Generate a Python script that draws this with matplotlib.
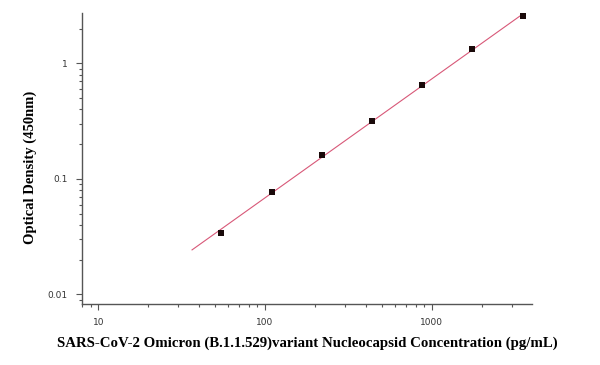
import numpy as np
import matplotlib
matplotlib.use("Agg")
import matplotlib.pyplot as plt
from matplotlib.ticker import LogLocator, FixedLocator, NullFormatter

# standard curve
conc = [54.7, 109.4, 218.75, 437.5, 875, 1750, 3500]
od = [0.0343, 0.0776, 0.162, 0.319, 0.644, 1.32, 2.56]

x_ticks = [10, 100, 1000]
x_tick_labels = ["10", "100", "1000"]
y_ticks = [0.01, 0.1, 1]
y_tick_labels = ["0.01", "0.1", "1"]

fig = plt.figure(figsize=(6, 3.65), dpi=100)
ax = fig.add_axes([0.136, 0.166, 0.751, 0.798])

# log-log linear fit
slope, icept = np.polyfit(np.log10(conc), np.log10(od), 1)
xf = np.logspace(np.log10(36.5), np.log10(3700), 50)
ax.plot(xf, 10 ** (icept + slope * np.log10(xf)), color="#d85878", lw=0.8, zorder=2)
ax.scatter(conc, od, marker="s", s=18, color="#1a0a0a", linewidths=0, zorder=3)

ax.set_xscale("log")
ax.set_yscale("log")
ax.set_xlim(7.95, 3990)
ax.set_ylim(0.0082, 2.72)

ax.xaxis.set_major_locator(FixedLocator(x_ticks))
ax.set_xticklabels(x_tick_labels)
ax.yaxis.set_major_locator(FixedLocator(y_ticks))
ax.set_yticklabels(y_tick_labels)
for a in (ax.xaxis, ax.yaxis):
    a.set_minor_locator(LogLocator(base=10, subs=np.arange(2, 10)))
    a.set_minor_formatter(NullFormatter())

for s in ("top", "right"):
    ax.spines[s].set_visible(False)
for s in ("left", "bottom"):
    ax.spines[s].set_color("#555555")
    ax.spines[s].set_linewidth(1.0)

ax.tick_params(which="major", direction="out", length=4, width=0.8, color="#555555",
               labelsize=6.5, labelcolor="#333333", pad=6)
ax.tick_params(which="minor", direction="out", length=2.5, width=0.8, color="#555555")

ax.set_ylabel("Optical Density (450nm)", fontfamily="Liberation Serif", fontweight="bold",
              fontsize=10.5)
ax.yaxis.set_label_coords(-0.1, 0.47)
ax.set_xlabel("SARS-CoV-2 Omicron (B.1.1.529)variant Nucleocapsid Concentration (pg/mL)",
              fontfamily="Liberation Serif", fontweight="bold", fontsize=10.7)
ax.xaxis.set_label_coords(0.5, -0.11)

fig.savefig("out.png", dpi=100)
